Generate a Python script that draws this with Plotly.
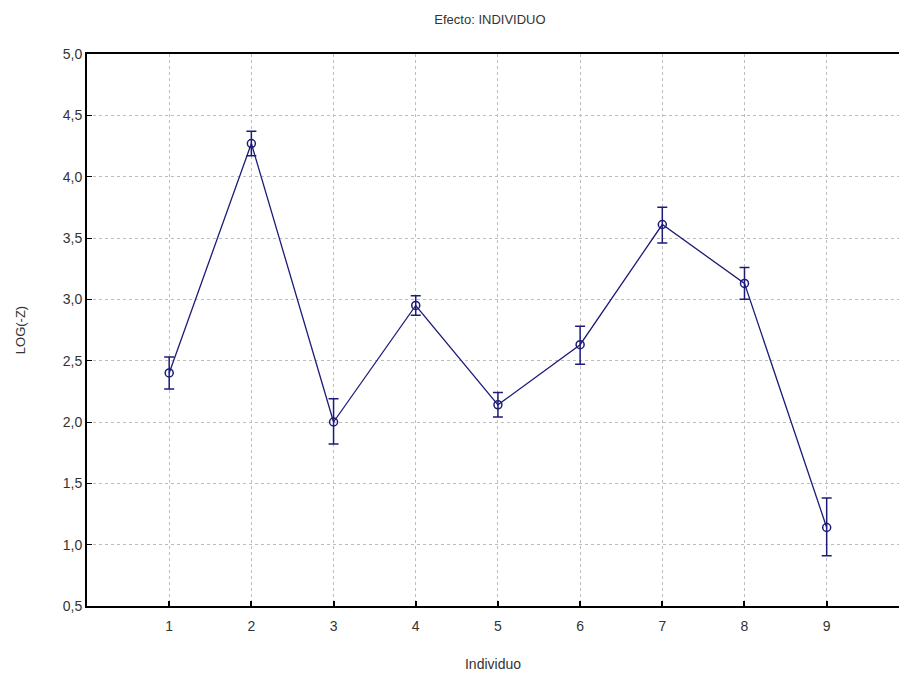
import plotly.graph_objects as go

individuo = [1, 2, 3, 4, 5, 6, 7, 8, 9]
log_z = [2.40, 4.27, 2.00, 2.95, 2.14, 2.63, 3.61, 3.13, 1.14]
err_plus = [0.13, 0.10, 0.19, 0.08, 0.10, 0.15, 0.14, 0.13, 0.24]
err_minus = [0.13, 0.10, 0.18, 0.08, 0.10, 0.16, 0.15, 0.13, 0.23]
y_ticks = [0.5, 1.0, 1.5, 2.0, 2.5, 3.0, 3.5, 4.0, 4.5, 5.0]
y_tick_text = ["0,5", "1,0", "1,5", "2,0", "2,5", "3,0", "3,5", "4,0", "4,5", "5,0"]

navy = "#1c1c78"

fig = go.Figure()
fig.add_trace(go.Scatter(
    x=individuo, y=log_z, mode="lines+markers",
    line=dict(color=navy, width=1.3),
    marker=dict(symbol="circle-open", size=8, color=navy, line=dict(width=1.5, color=navy)),
    error_y=dict(type="data", symmetric=False, array=err_plus, arrayminus=err_minus,
                 color=navy, thickness=1.5, width=5),
    showlegend=False,
))

fig.update_layout(
    width=899, height=680,
    margin=dict(l=87, r=0, t=54, b=74),
    paper_bgcolor="white", plot_bgcolor="white",
    font=dict(family="Liberation Sans, Arial, sans-serif", size=14, color="#333333"),
    title=dict(text="Efecto: INDIVIDUO", x=0.545, xanchor="center", y=0.972, yanchor="middle",
               font=dict(size=13, color="#333333")),
)
fig.update_xaxes(
    range=[0, 9.88], tickvals=individuo, ticktext=[str(v) for v in individuo],
    showgrid=True, gridcolor="#bdbdbd", griddash="dot", gridwidth=1,
    showline=True, linecolor="black", linewidth=2, mirror=True,
    ticks="inside", ticklen=5, tickcolor="black", tickwidth=2,
    zeroline=False, ticklabelstandoff=6,
    tickfont=dict(size=14),
    title=dict(text="Individuo", font=dict(size=14, color="#333333"), standoff=26),
)
fig.update_yaxes(
    range=[0.5, 5.0], tickvals=y_ticks, ticktext=y_tick_text,
    showgrid=True, gridcolor="#bdbdbd", griddash="dot", gridwidth=1,
    showline=True, linecolor="black", linewidth=2, mirror=False,
    ticks="inside", ticklen=5, tickcolor="black", tickwidth=1,
    zeroline=False,
    tickfont=dict(size=14),
    title=dict(text="LOG(-Z)", font=dict(size=13, color="#333333"), standoff=34),
)

fig.write_html("out.html")
